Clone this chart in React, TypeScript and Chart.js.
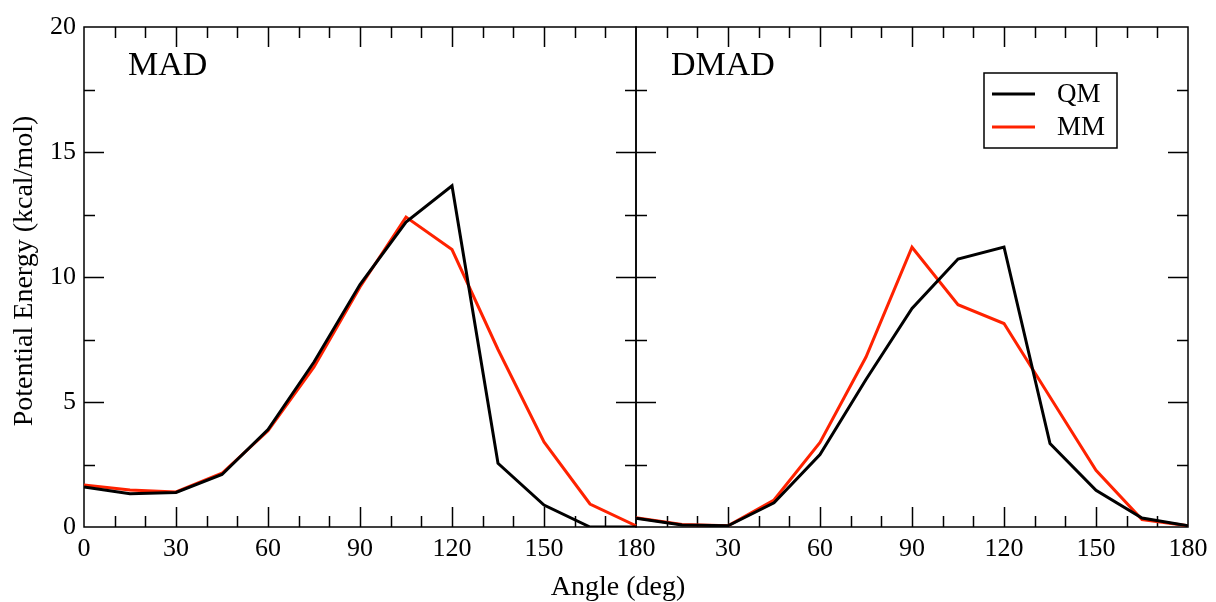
import React, { useEffect, useRef } from "react";
import { Chart, registerables } from "chart.js";

Chart.register(...registerables);

// Angles (deg) at which the scans were sampled
const angles = [0, 15, 30, 45, 60, 75, 90, 105, 120, 135, 150, 165, 180];
// MAD panel
const madQM = [1.6, 1.33, 1.38, 2.1, 3.9, 6.6, 9.7, 12.2, 13.65, 2.55, 0.88, 0.0, 0.0];
const madMM = [1.68, 1.48, 1.4, 2.15, 3.85, 6.4, 9.6, 12.4, 11.1, 7.1, 3.4, 0.92, 0.05];
// DMAD panel
const dmadQM = [0.35, 0.08, 0.05, 0.97, 2.9, 5.9, 8.74, 10.72, 11.2, 3.34, 1.47, 0.36, 0.05];
const dmadMM = [0.37, 0.1, 0.05, 1.08, 3.38, 6.8, 11.19, 8.89, 8.14, 5.2, 2.27, 0.3, 0.05];

const panelTitles = ["MAD", "DMAD"];
const seriesNames = ["QM", "MM"];
const xTitle = "Angle (deg)";
const yTitle = "Potential Energy (kcal/mol)";

const QM_COLOR = "#000000";
const MM_COLOR = "rgb(255,34,0)";
const SERIF = "'Liberation Serif', 'Times New Roman', serif";

// the right panel is drawn on the same linear axis, shifted by one panel width
const PANEL_SPAN = 180;

const toPoints = (vals: number[], offset: number) =>
  angles.map((a, i) => ({ x: a + offset, y: vals[i] }));

const framePlugin = {
  id: "frame",
  beforeDatasetsDraw(chart: any) {
    const { ctx, chartArea } = chart;
    const { left, right, top, bottom } = chartArea;
    const xs = chart.scales.x;
    const ys = chart.scales.y;
    const mid = xs.getPixelForValue(PANEL_SPAN);
    ctx.save();
    ctx.strokeStyle = "#000";
    ctx.lineWidth = 1.5;
    ctx.strokeRect(left, top, mid - left, bottom - top);
    ctx.strokeRect(mid, top, right - mid, bottom - top);
    ctx.beginPath();
    for (let v = 10; v < 2 * PANEL_SPAN; v += 10) {
      if (v === PANEL_SPAN) continue;
      const len = v % 30 === 0 ? 20 : 11;
      const px = Math.round(xs.getPixelForValue(v)) + 0.5;
      ctx.moveTo(px, bottom);
      ctx.lineTo(px, bottom - len);
      ctx.moveTo(px, top);
      ctx.lineTo(px, top + len);
    }
    for (let v = 2.5; v < 20; v += 2.5) {
      const len = v % 5 === 0 ? 20 : 11;
      const py = Math.round(ys.getPixelForValue(v)) + 0.5;
      ctx.moveTo(left, py);
      ctx.lineTo(left + len, py);
      ctx.moveTo(mid - len, py);
      ctx.lineTo(mid + len, py);
      ctx.moveTo(right - len, py);
      ctx.lineTo(right, py);
    }
    ctx.stroke();
    ctx.restore();
  },
  afterDraw(chart: any) {
    const { ctx, chartArea } = chart;
    const { left, top, bottom } = chartArea;
    const xs = chart.scales.x;
    const mid = xs.getPixelForValue(PANEL_SPAN);
    ctx.save();
    ctx.fillStyle = "#000";
    // panel titles
    ctx.font = `34px ${SERIF}`;
    ctx.textAlign = "left";
    ctx.textBaseline = "alphabetic";
    ctx.fillText(panelTitles[0], left + 44, top + 48);
    ctx.fillText(panelTitles[1], mid + 35, top + 48);
    // axis titles
    ctx.font = `28px ${SERIF}`;
    ctx.textAlign = "center";
    ctx.fillText(xTitle, 618, 595);
    ctx.save();
    ctx.translate(32, (top + bottom) / 2 - 6);
    ctx.rotate(-Math.PI / 2);
    ctx.fillText(yTitle, 0, 0);
    ctx.restore();
    // legend
    const bx = 984, by = 73, bw = 133, bh = 75;
    ctx.lineWidth = 1.5;
    ctx.strokeStyle = "#000";
    ctx.strokeRect(bx, by, bw, bh);
    const colors = [QM_COLOR, MM_COLOR];
    ctx.font = `27px ${SERIF}`;
    ctx.textAlign = "left";
    ctx.textBaseline = "middle";
    seriesNames.forEach((name, i) => {
      const ly = by + 21 + i * 33;
      ctx.strokeStyle = colors[i];
      ctx.lineWidth = 3;
      ctx.beginPath();
      ctx.moveTo(bx + 8, ly);
      ctx.lineTo(bx + 51, ly);
      ctx.stroke();
      ctx.fillStyle = "#000";
      ctx.fillText(name, bx + 73, ly + 1);
    });
    ctx.restore();
  },
};

export default function App() {
  const canvasRef = useRef<HTMLCanvasElement | null>(null);

  useEffect(() => {
    if (!canvasRef.current) return;
    const lineStyle = (color: string) => ({
      borderColor: color,
      backgroundColor: color,
      borderWidth: 3,
      pointRadius: 0,
      tension: 0,
      fill: false,
    });
    const chart = new Chart(canvasRef.current, {
      type: "line",
      data: {
        datasets: [
          { label: "QM " + panelTitles[0], data: toPoints(madQM, 0), ...lineStyle(QM_COLOR) },
          { label: "MM " + panelTitles[0], data: toPoints(madMM, 0), ...lineStyle(MM_COLOR) },
          { label: "QM " + panelTitles[1], data: toPoints(dmadQM, PANEL_SPAN), ...lineStyle(QM_COLOR) },
          { label: "MM " + panelTitles[1], data: toPoints(dmadMM, PANEL_SPAN), ...lineStyle(MM_COLOR) },
        ],
      },
      options: {
        responsive: false,
        animation: false,
        layout: { padding: { top: 27, right: 28, left: 0, bottom: 0 } },
        plugins: {
          legend: { display: false },
          tooltip: { enabled: false },
          title: { display: false },
        },
        scales: {
          x: {
            type: "linear",
            min: 0,
            max: 2 * PANEL_SPAN,
            grid: { display: false, drawTicks: false },
            border: { display: false },
            ticks: {
              stepSize: 30,
              autoSkip: false,
              maxRotation: 0,
              padding: 7,
              color: "#000",
              font: { family: SERIF, size: 26 },
              callback: (v: any) => String(v > PANEL_SPAN ? v - PANEL_SPAN : v),
            },
            afterFit: (s: any) => {
              s.height = 75;
            },
          },
          y: {
            type: "linear",
            min: 0,
            max: 20,
            grid: { display: false, drawTicks: false },
            border: { display: false },
            ticks: {
              stepSize: 5,
              padding: 8,
              color: "#000",
              font: { family: SERIF, size: 26 },
            },
            afterFit: (s: any) => {
              s.width = 84;
            },
          },
        },
      },
      plugins: [framePlugin],
    });
    return () => chart.destroy();
  }, []);

  return (
    <div style={{ position: "fixed", left: 0, top: 0, width: 1216, height: 602, background: "#fff" }}>
      <canvas ref={canvasRef} width={1216} height={602} />
    </div>
  );
}
